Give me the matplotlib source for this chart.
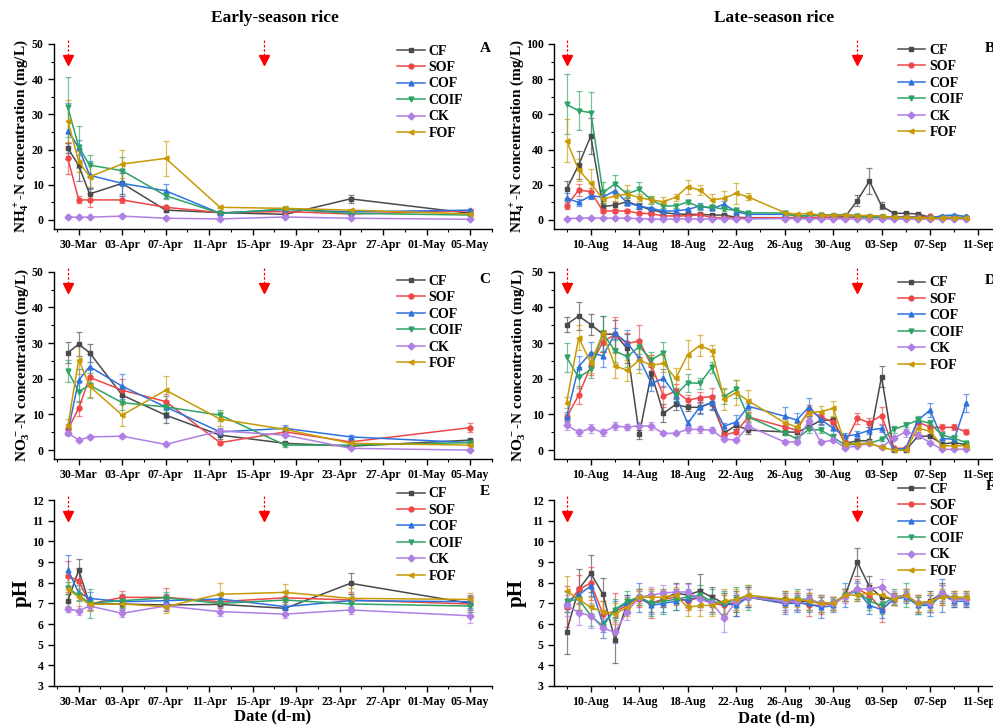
import numpy as np
import matplotlib
matplotlib.use("Agg")
import matplotlib.pyplot as plt
import matplotlib.dates as mdates
from matplotlib.ticker import MultipleLocator, FixedLocator

# treatments, in legend order
treatments = ["CF", "SOF", "COF", "COIF", "CK", "FOF"]
colors = ["#4a4a4a", "#ee4747", "#2e73dd", "#2ea366", "#b07fe3", "#c89a05"]
markers = ["s", "o", "^", "v", "D", "<"]

# sampling dates
early_dates = ["2020-03-29", "2020-03-30", "2020-03-31", "2020-04-03", "2020-04-07",
               "2020-04-12", "2020-04-18", "2020-04-24", "2020-05-05"]
late_dates = (["2020-08-%02d" % d for d in range(8, 24)]
              + ["2020-08-26", "2020-08-27", "2020-08-28", "2020-08-29", "2020-08-30", "2020-08-31"]
              + ["2020-09-%02d" % d for d in range(1, 11)])

# fertilisation (red arrows)
early_fert = ["2020-03-29", "2020-04-16"]
late_fert = ["2020-08-08", "2020-09-01"]

# ---------------- early season ----------------
nh4_early = [
    [20.4, 15.5, 7.4, 10.4, 2.8, 2.1, 1.6, 6.0, 1.9],
    [17.5, 5.7, 5.7, 5.7, 3.6, 2.1, 2.4, 1.7, 2.6],
    [25.3, 20.6, 12.7, 10.4, 8.3, 1.9, 3.0, 2.3, 2.8],
    [32.0, 20.8, 15.6, 14.0, 6.9, 1.9, 3.1, 1.9, 1.4],
    [0.8, 0.8, 0.8, 1.1, 0.5, 0.3, 0.85, 0.5, 0.2],
    [28.2, 16.6, 12.3, 15.9, 17.5, 3.6, 3.3, 2.8, 1.7],
]
nh4_early_err = [
    [1.5, 4.5, 1.8, 3.0, 0.5, 0.3, 0.3, 1.2, 0.3],
    [4.4, 1.0, 2.0, 1.0, 0.5, 0.3, 0.3, 0.3, 0.4],
    [8.0, 2.0, 4.0, 3.5, 2.0, 0.3, 0.5, 0.3, 0.4],
    [8.5, 6.0, 3.0, 4.0, 1.0, 0.3, 0.4, 0.3, 0.3],
    [0.2, 0.2, 0.2, 0.3, 0.2, 0.2, 0.2, 0.2, 0.2],
    [6.0, 3.0, 3.0, 4.0, 5.0, 0.3, 0.4, 0.4, 0.3],
]
no3_early = [
    [27.3, 29.7, 27.3, 15.4, 9.8, 4.2, 1.9, 1.1, 2.8],
    [5.8, 11.7, 20.4, 16.8, 13.6, 2.1, 5.1, 2.3, 6.3],
    [5.1, 19.6, 23.4, 17.9, 12.1, 5.1, 6.1, 3.7, 2.1],
    [22.2, 16.4, 18.2, 13.3, 12.1, 9.8, 1.4, 1.4, 2.1],
    [4.9, 2.8, 3.7, 3.9, 1.6, 5.4, 4.2, 0.5, 0.0],
    [6.7, 25.4, 17.9, 9.8, 16.8, 8.7, 5.8, 1.9, 1.4],
]
no3_early_err = [
    [3.0, 3.4, 2.5, 2.5, 2.2, 1.0, 0.4, 0.3, 0.4],
    [1.5, 2.0, 2.5, 3.0, 2.0, 0.4, 1.0, 0.4, 1.3],
    [1.0, 3.0, 3.5, 3.5, 3.0, 1.0, 1.0, 0.5, 0.4],
    [3.0, 3.0, 3.5, 2.0, 1.5, 1.5, 0.4, 0.3, 0.3],
    [0.8, 0.4, 0.6, 0.4, 0.4, 0.5, 0.6, 0.2, 0.2],
    [2.0, 4.0, 3.0, 3.0, 4.0, 2.0, 0.8, 0.4, 0.3],
]
ph_early = [
    [7.13, 8.6, 6.97, 6.97, 6.92, 6.95, 6.76, 7.97, 7.0],
    [8.32, 8.1, 6.97, 7.29, 7.29, 7.08, 7.27, 7.16, 6.97],
    [8.61, 7.52, 7.24, 7.08, 7.13, 7.21, 6.84, 7.13, 7.08],
    [7.73, 7.4, 7.0, 7.13, 7.27, 7.0, 7.16, 6.97, 6.87],
    [6.71, 6.65, 6.87, 6.52, 6.87, 6.6, 6.48, 6.68, 6.4],
    [7.68, 7.3, 6.95, 6.97, 6.84, 7.44, 7.53, 7.24, 7.19],
]
ph_early_err = [
    [0.3, 0.55, 0.3, 0.3, 0.3, 0.3, 0.3, 0.5, 0.3],
    [0.75, 0.6, 0.3, 0.3, 0.45, 0.3, 0.3, 0.4, 0.4],
    [0.75, 0.35, 0.3, 0.3, 0.3, 0.3, 0.4, 0.3, 0.3],
    [0.3, 0.3, 0.7, 0.3, 0.3, 0.4, 0.45, 0.3, 0.3],
    [0.15, 0.2, 0.2, 0.2, 0.2, 0.2, 0.2, 0.2, 0.35],
    [0.6, 0.7, 0.3, 0.4, 0.3, 0.55, 0.4, 0.5, 0.3],
]

# ---------------- late season ----------------
nh4_late = [
    [17.4, 31.3, 47.7, 7.6, 8.5, 10.4, 8.0, 5.7, 4.2, 3.4, 3.2, 3.2, 2.8, 2.8, 1.5, 1.3,
     1.3, 1.0, 1.1, 1.5, 1.5, 1.9, 11.0, 22.2, 8.0, 3.8, 3.8, 3.4, 1.5, 1.5, 1.3, 1.3],
    [8.1, 17.0, 16.1, 5.1, 5.1, 5.1, 3.8, 3.6, 2.3, 2.3, 2.3, 3.0, 1.3, 1.3, 1.1, 1.1,
     1.3, 1.5, 1.5, 1.5, 1.5, 1.5, 1.6, 1.8, 1.8, 1.8, 1.8, 1.8, 2.0, 1.5, 1.5, 1.5],
    [12.3, 10.0, 13.8, 12.9, 16.7, 9.8, 7.9, 6.6, 5.1, 5.1, 6.0, 7.9, 6.6, 8.9, 4.7, 3.2,
     3.2, 2.5, 2.5, 2.8, 3.0, 3.0, 2.5, 2.0, 2.0, 1.7, 1.7, 1.5, 1.0, 2.5, 2.8, 2.0],
    [65.7, 62.1, 61.0, 15.7, 20.5, 14.8, 17.4, 11.4, 8.0, 8.0, 10.2, 7.3, 7.3, 6.2, 5.5, 4.0,
     4.0, 2.0, 2.5, 3.0, 2.5, 2.5, 2.0, 1.5, 1.5, 1.2, 1.2, 1.0, 1.0, 1.0, 1.2, 1.2],
    [0.8, 1.0, 1.2, 1.0, 1.0, 1.0, 0.8, 0.5, 0.5, 0.5, 0.7, 0.5, 0.6, 0.6, 0.6, 0.6,
     0.8, 0.7, 0.7, 0.6, 0.6, 0.6, 0.6, 0.6, 0.6, 0.5, 0.5, 0.5, 0.5, 0.5, 0.5, 0.5],
    [45.1, 28.4, 20.8, 11.9, 13.6, 14.8, 12.7, 11.4, 10.4, 12.9, 18.9, 17.0, 11.4, 12.3, 15.2, 13.1,
     4.2, 3.2, 3.8, 2.7, 2.7, 2.8, 2.5, 2.5, 2.3, 1.5, 1.5, 1.3, 1.0, 1.0, 1.2, 1.0],
]
nh4_late_err = [
    [5.0, 8.0, 10.0, 1.5, 2.0, 2.0, 1.5, 1.0, 1.0, 0.6, 0.5, 0.5, 0.5, 0.5, 0.3, 0.3,
     0.3, 0.3, 0.3, 0.3, 0.3, 0.3, 3.0, 7.5, 2.0, 0.8, 0.8, 0.8, 0.3, 0.3, 0.3, 0.3],
    [2.0, 3.5, 2.0, 1.0, 1.0, 1.0, 0.8, 0.8, 0.5, 0.5, 0.5, 0.5, 0.3, 0.3, 0.3, 0.3,
     0.3, 0.3, 0.3, 0.3, 0.3, 0.3, 0.3, 0.3, 0.3, 0.3, 0.3, 0.3, 0.3, 0.3, 0.3, 0.3],
    [3.0, 2.0, 2.0, 2.0, 3.0, 1.5, 1.5, 1.0, 1.0, 1.0, 1.0, 2.0, 1.0, 2.0, 0.8, 0.5,
     0.5, 0.3, 0.3, 0.3, 0.3, 0.3, 0.3, 0.3, 0.3, 0.3, 0.3, 0.3, 0.3, 0.3, 0.4, 0.3],
    [17.0, 11.0, 12.0, 6.0, 5.0, 2.0, 4.0, 2.5, 1.0, 1.0, 1.0, 1.0, 1.0, 1.0, 0.8, 0.5,
     0.5, 0.3, 0.3, 0.3, 0.3, 0.3, 0.3, 0.3, 0.3, 0.3, 0.3, 0.3, 0.3, 0.3, 0.3, 0.3],
    [0.2, 0.2, 0.2, 0.2, 0.2, 0.2, 0.2, 0.2, 0.2, 0.2, 0.2, 0.2, 0.2, 0.2, 0.2, 0.2,
     0.2, 0.2, 0.2, 0.2, 0.2, 0.2, 0.2, 0.2, 0.2, 0.2, 0.2, 0.2, 0.2, 0.2, 0.2, 0.2],
    [12.0, 6.5, 8.0, 3.0, 3.0, 5.0, 2.0, 2.0, 2.5, 2.0, 4.0, 3.0, 3.5, 4.0, 6.0, 2.0,
     1.0, 0.8, 0.5, 0.4, 0.4, 0.4, 0.4, 0.4, 0.4, 0.3, 0.3, 0.3, 0.3, 0.3, 0.3, 0.3],
]
no3_late = [
    [35.2, 37.6, 35.2, 32.5, 32.5, 28.5, 4.4, 21.5, 10.3, 12.8, 12.0, 12.0, 13.3, 4.7, 7.0, 5.6,
     5.1, 5.0, 6.5, 8.4, 8.4, 1.9, 2.6, 2.6, 20.6, 0.0, 0.0, 3.9, 3.9, 1.7, 2.1, 1.5],
    [9.2, 15.4, 23.6, 30.4, 32.4, 29.9, 30.6, 23.8, 15.1, 16.5, 14.0, 14.7, 15.0, 4.2, 5.1, 9.3,
     6.5, 5.6, 11.2, 9.2, 7.9, 2.1, 8.9, 7.7, 9.7, 0.5, 0.5, 7.9, 6.4, 6.4, 6.4, 5.1],
    [9.3, 23.4, 27.3, 26.4, 32.7, 30.1, 25.7, 18.7, 20.1, 15.4, 7.5, 12.1, 13.4, 6.7, 7.9, 12.3,
     9.5, 8.4, 12.1, 8.6, 6.1, 3.9, 4.4, 5.6, 6.1, 0.2, 0.5, 8.4, 11.2, 3.3, 3.0, 13.3],
    [26.0, 20.4, 22.6, 32.7, 27.8, 26.2, 29.0, 25.4, 27.3, 15.4, 18.9, 18.7, 23.2, 15.0, 17.1, 9.3,
     4.8, 3.2, 5.8, 5.6, 3.6, 1.4, 1.7, 1.9, 3.0, 5.8, 7.0, 8.4, 7.5, 4.2, 3.3, 2.1],
    [7.0, 5.0, 6.1, 5.0, 6.7, 6.5, 6.8, 6.7, 4.7, 4.7, 5.8, 5.8, 5.6, 3.1, 2.8, 6.7,
     2.3, 2.3, 8.2, 2.2, 2.8, 0.7, 1.2, 1.9, 0.8, 3.4, 5.1, 4.2, 2.1, 0.2, 0.2, 0.3],
    [13.3, 31.5, 24.5, 32.7, 23.6, 22.4, 25.2, 23.8, 24.3, 20.1, 26.8, 29.3, 27.9, 14.3, 16.1, 13.8,
     7.7, 6.5, 10.5, 10.8, 11.7, 1.8, 1.8, 1.9, 0.8, 0.0, 0.0, 6.2, 5.3, 1.2, 1.2, 1.2],
]
no3_late_err = [
    [2.0, 4.0, 3.0, 5.0, 4.0, 4.0, 1.3, 3.0, 2.5, 1.5, 1.0, 1.5, 2.0, 0.5, 1.0, 1.0,
     1.0, 1.5, 1.0, 1.0, 1.0, 0.5, 0.5, 0.5, 3.0, 0.3, 0.3, 0.5, 0.5, 0.3, 0.3, 0.3],
    [1.0, 2.5, 2.5, 3.0, 5.0, 3.0, 4.5, 3.0, 3.0, 2.0, 1.5, 1.5, 2.5, 0.5, 0.5, 1.0,
     1.0, 1.0, 1.5, 1.0, 1.0, 0.5, 1.5, 1.2, 2.5, 0.3, 0.3, 1.0, 1.0, 1.0, 0.8, 0.7],
    [1.5, 3.0, 3.0, 3.0, 1.5, 3.5, 3.0, 2.0, 2.5, 1.5, 1.0, 2.0, 2.0, 1.0, 2.0, 1.0,
     2.5, 2.0, 2.5, 1.5, 1.5, 1.0, 1.0, 1.0, 1.0, 0.3, 0.3, 1.0, 2.0, 1.0, 1.0, 2.5],
    [4.0, 3.0, 2.5, 5.0, 3.0, 3.0, 2.0, 2.0, 3.0, 2.0, 2.5, 1.5, 1.5, 2.0, 2.5, 1.5,
     0.5, 0.5, 1.0, 0.8, 0.8, 0.3, 0.3, 0.3, 0.5, 1.0, 1.0, 1.2, 1.0, 1.0, 1.0, 0.3],
    [1.5, 1.0, 1.2, 1.0, 1.2, 0.8, 1.2, 1.2, 0.5, 0.5, 1.0, 1.0, 0.8, 0.5, 0.5, 1.0,
     0.5, 0.5, 1.0, 0.5, 0.5, 0.3, 0.3, 0.3, 0.3, 0.5, 1.5, 0.8, 0.5, 0.3, 0.3, 0.3],
    [1.5, 3.5, 3.0, 1.0, 3.5, 3.0, 3.5, 3.0, 2.5, 3.0, 4.0, 3.0, 1.5, 3.0, 3.5, 3.0,
     1.0, 1.0, 1.5, 1.5, 2.0, 0.3, 0.3, 0.3, 0.3, 0.2, 0.2, 1.0, 1.0, 0.3, 0.3, 0.3],
]
ph_late = [
    [5.63, 7.68, 8.45, 7.44, 5.23, 7.0, 7.3, 7.0, 7.2, 7.5, 7.4, 7.6, 7.3, 7.0, 7.0, 7.3,
     7.2, 7.1, 7.1, 7.0, 7.0, 7.4, 9.0, 7.8, 7.3, 7.2, 7.4, 7.0, 7.1, 7.5, 7.2, 7.2],
    [6.84, 7.68, 7.97, 6.5, 6.6, 6.9, 7.2, 7.0, 7.2, 7.3, 7.1, 7.3, 7.0, 6.9, 7.0, 7.3,
     7.0, 7.1, 6.9, 6.9, 7.0, 7.4, 7.7, 7.4, 6.7, 7.2, 7.4, 7.0, 7.0, 7.4, 7.2, 7.2],
    [7.1, 7.4, 7.85, 6.0, 6.7, 7.0, 7.3, 6.9, 7.0, 7.1, 7.2, 7.3, 7.0, 7.0, 6.9, 7.3,
     7.0, 7.0, 7.0, 6.8, 6.9, 7.4, 7.6, 6.9, 6.7, 7.2, 7.3, 6.9, 6.9, 7.4, 7.1, 7.1],
    [7.1, 7.2, 6.4, 5.9, 6.7, 7.1, 7.3, 7.0, 7.1, 7.2, 7.3, 7.4, 7.1, 7.0, 7.2, 7.3,
     7.1, 7.2, 7.2, 7.0, 7.0, 7.4, 7.6, 7.1, 6.9, 7.3, 7.4, 6.9, 7.0, 7.5, 7.2, 7.2],
    [6.9, 6.55, 6.4, 5.8, 5.6, 6.6, 7.3, 7.4, 7.5, 7.55, 7.55, 7.2, 7.0, 6.3, 7.1, 7.3,
     7.1, 7.1, 7.2, 7.0, 7.0, 7.3, 7.7, 7.7, 7.8, 7.3, 7.4, 7.0, 7.0, 7.5, 7.2, 7.2],
    [7.6, 7.2, 6.8, 6.6, 6.5, 6.8, 7.3, 7.3, 7.3, 7.4, 6.8, 6.9, 6.9, 7.1, 7.2, 7.4,
     7.2, 7.2, 7.1, 7.0, 7.0, 7.4, 7.4, 7.5, 7.4, 7.2, 7.4, 7.0, 7.1, 7.3, 7.3, 7.3],
]
ph_late_err = [
    [1.1, 1.0, 0.9, 0.8, 1.1, 0.4, 0.4, 0.4, 0.4, 0.5, 0.6, 0.8, 0.5, 0.5, 0.6, 0.5,
     0.4, 0.4, 0.4, 0.4, 0.3, 0.3, 0.7, 0.5, 0.4, 0.3, 0.3, 0.4, 0.5, 0.5, 0.4, 0.4],
    [1.0, 0.7, 0.8, 0.6, 0.9, 0.4, 0.4, 0.7, 0.4, 0.4, 0.4, 0.4, 0.4, 0.5, 0.4, 0.5,
     0.4, 0.4, 0.5, 0.4, 0.3, 0.3, 0.5, 0.5, 0.6, 0.3, 0.3, 0.4, 0.4, 0.5, 0.3, 0.3],
    [0.5, 0.4, 0.5, 0.4, 0.4, 0.4, 0.7, 0.4, 0.4, 0.4, 0.4, 0.4, 0.4, 0.6, 0.5, 0.5,
     0.5, 0.4, 0.4, 0.5, 0.3, 0.6, 0.5, 0.4, 0.4, 0.3, 0.3, 0.4, 0.5, 0.8, 0.3, 0.3],
    [0.5, 0.5, 0.5, 0.6, 0.5, 0.5, 0.4, 0.6, 0.6, 0.5, 0.4, 0.5, 0.6, 0.5, 0.6, 0.6,
     0.4, 0.5, 0.5, 0.4, 0.3, 0.3, 0.4, 0.4, 0.4, 0.4, 0.6, 0.4, 0.4, 0.4, 0.3, 0.3],
    [0.5, 0.6, 0.6, 0.5, 0.5, 0.4, 0.3, 0.4, 0.4, 0.4, 0.4, 0.5, 0.4, 0.7, 0.4, 0.4,
     0.4, 0.4, 0.5, 0.4, 0.3, 0.3, 0.3, 0.3, 0.4, 0.3, 0.3, 0.4, 0.4, 0.4, 0.3, 0.3],
    [0.7, 0.5, 0.5, 0.5, 0.5, 0.4, 0.4, 0.4, 0.4, 0.4, 0.4, 0.5, 0.5, 0.6, 0.5, 0.5,
     0.4, 0.4, 0.4, 0.4, 0.3, 0.3, 0.3, 0.4, 0.4, 0.3, 0.3, 0.4, 0.4, 0.4, 0.3, 0.3],
]

plt.rcParams["font.family"] = "Liberation Serif"
plt.rcParams["font.weight"] = "bold"
plt.rcParams["axes.labelweight"] = "bold"
plt.rcParams["mathtext.fontset"] = "custom"
plt.rcParams["mathtext.rm"] = "Liberation Serif:bold"
plt.rcParams["mathtext.default"] = "rm"

fig = plt.figure(figsize=(9.93, 7.27), dpi=100)

xe = mdates.date2num(np.array(early_dates, dtype="datetime64[D]"))
xl = mdates.date2num(np.array(late_dates, dtype="datetime64[D]"))
e_ticks = mdates.date2num(np.arange(np.datetime64("2020-03-30"), np.datetime64("2020-05-06"), 4))
l_ticks = mdates.date2num(np.arange(np.datetime64("2020-08-10"), np.datetime64("2020-09-12"), 4))

rows = [  # bottom, height
    (0.6853, 0.2542),
    (0.3686, 0.2576),
    (0.0564, 0.2558),
]
cols = [(0.0544, 0.441), (0.558, 0.442)]

# row, col, x, means, errors, ylim, ystep, ylabel, tag, arrows, legend y, label x
panels = [
    (0, 0, xe, nh4_early, nh4_early_err, (-2.5, 50), 10, "NH$_4^+$-N concentration (mg/L)", "A", early_fert, 1.027, -0.052),
    (0, 1, xl, nh4_late, nh4_late_err, (-5, 100), 20, "NH$_4^+$-N concentration (mg/L)", "B", late_fert, 1.032, -0.062),
    (1, 0, xe, no3_early, no3_early_err, (-2.5, 50), 10, "NO$_3^-$-N concentration (mg/L)", "C", early_fert, 1.014, -0.052),
    (1, 1, xl, no3_late, no3_late_err, (-2.5, 50), 10, "NO$_3^-$-N concentration (mg/L)", "D", late_fert, 1.005, -0.062),
    (2, 0, xe, ph_early, ph_early_err, (3, 12), 1, "pH", "E", early_fert, 1.098, -0.052),
    (2, 1, xl, ph_late, ph_late_err, (3, 12), 1, "pH", "F", late_fert, 1.124, -0.062),
]

for r, c, x, means, errs, ylim, ystep, ylabel, tag, fert, legy, labx in panels:
    b, h = rows[r]
    l, w = cols[c]
    ax = fig.add_axes([l, b, w, h])
    handles = []
    for k in range(len(treatments)):
        eb = ax.errorbar(x, means[k], yerr=errs[k], color=colors[k], marker=markers[k],
                         ms=3.5, lw=1.1, elinewidth=0.9, capsize=2, capthick=0.9)
        for art in eb[1] + eb[2]:
            art.set_alpha(0.65)
        handles.append(eb[0])

    if c == 0:
        x0 = mdates.date2num(np.datetime64("2020-03-30"))
        ax.set_xlim(x0 - 2.27, x0 + 38.0)
        ticks = e_ticks
    else:
        x0 = mdates.date2num(np.datetime64("2020-08-10"))
        ax.set_xlim(x0 - 3.03, x0 + 33.2)
        ticks = l_ticks
    ax.xaxis.set_major_locator(FixedLocator(ticks))
    ax.xaxis.set_minor_locator(FixedLocator(np.append(ticks - 2, ticks[-1] + 2)))
    ax.xaxis.set_major_formatter(mdates.DateFormatter("%d-%b"))

    ax.yaxis.set_major_locator(MultipleLocator(ystep))
    if ystep > 1:
        ax.yaxis.set_minor_locator(MultipleLocator(ystep / 2))
    ax.set_ylim(*ylim)

    for s in ["top", "right"]:
        ax.spines[s].set_visible(False)
    for s in ["left", "bottom"]:
        ax.spines[s].set_linewidth(1.0)
    ax.tick_params(which="major", direction="out", length=4, width=1, labelsize=8.5)
    ax.tick_params(which="minor", direction="out", length=2, width=0.8)
    for lab in ax.get_xticklabels() + ax.get_yticklabels():
        lab.set_fontweight("bold")

    fs = 15 if ylabel == "pH" else 11
    ax.set_ylabel(ylabel, fontsize=fs)
    ax.yaxis.set_label_coords(labx, 0.5)

    # fertilisation arrows
    top = ylim[1]
    span = ylim[1] - ylim[0]
    for d in fert:
        xd = mdates.date2num(np.datetime64(d))
        ax.plot([xd, xd], [top + 0.02 * span, top - 0.06 * span], ls=(0, (2, 1.5)),
                color="red", lw=0.9, clip_on=False)
        ax.plot(xd, top - 0.085 * span, marker="v", ms=7, color="red", clip_on=False)

    ax.legend(handles, treatments, loc="upper left", bbox_to_anchor=(0.77, legy),
              frameon=False, fontsize=10, handlelength=2.0, handletextpad=0.3,
              labelspacing=0.25, borderaxespad=0)
    # panel letter aligned with first legend row
    fig.canvas.draw()
    ty = legy - 10.0 / (h * 727)
    ax.text(0.984 if c == 0 else 0.993, ty, tag, transform=ax.transAxes, fontsize=11,
            fontweight="bold", ha="center", va="center", clip_on=False)

fig.text(0.277, 0.975, "Early-season rice", ha="center", va="center", fontsize=12.5, fontweight="bold")
fig.text(0.78, 0.975, "Late-season rice", ha="center", va="center", fontsize=12.5, fontweight="bold")
fig.text(0.274, 0.014, "Date (d-m)", ha="center", va="center", fontsize=12, fontweight="bold")
fig.text(0.782, 0.012, "Date (d-m)", ha="center", va="center", fontsize=12, fontweight="bold")

fig.savefig("out.png", dpi=100)
